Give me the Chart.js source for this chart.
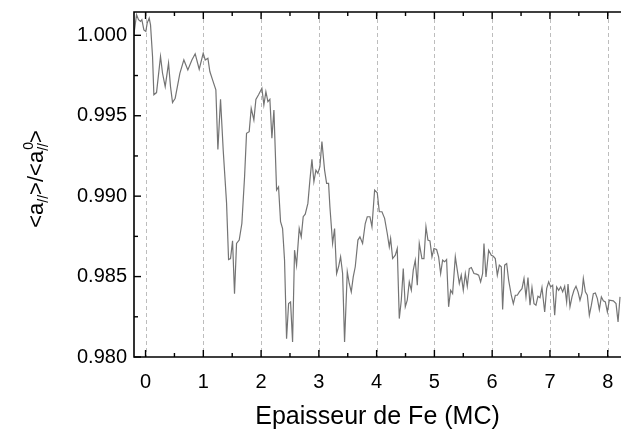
<!DOCTYPE html>
<html>
<head>
<meta charset="utf-8">
<script src="https://cdn.jsdelivr.net/npm/chart.js@4"></script>
<style>
  html, body { margin: 0; padding: 0; background: #fff; }
  #wrap { width: 621px; height: 434px; }
</style>
</head>
<body>
<div id="wrap"><canvas id="chart" width="621" height="434"></canvas></div>
<script>
// épaisseur de Fe (MC)
const epaisseur = [
  -0.203, -0.156, -0.122, -0.087, -0.064, -0.029, 0.005, 0.028, 0.063, 0.086,
  0.121, 0.144, 0.190, 0.259, 0.294, 0.340, 0.398, 0.432, 0.467, 0.513,
  0.594, 0.663, 0.732, 0.802, 0.859, 0.929, 0.998, 1.033, 1.079, 1.113,
  1.160, 1.217, 1.252, 1.298, 1.344, 1.402, 1.437, 1.471, 1.506,
  1.540, 1.575, 1.621, 1.667, 1.714, 1.748, 1.794, 1.829, 1.875, 1.910, 1.956,
  2.014, 2.048, 2.083, 2.118, 2.152, 2.187, 2.222, 2.268, 2.302, 2.337,
  2.372, 2.406, 2.441, 2.476, 2.510, 2.545, 2.579, 2.614, 2.660, 2.695,
  2.729, 2.764, 2.810, 2.845, 2.880, 2.914, 2.949, 2.983, 3.018, 3.053,
  3.099, 3.134, 3.168, 3.191,
  3.238, 3.272, 3.307, 3.341, 3.376, 3.411, 3.445, 3.492, 3.526, 3.561,
  3.595, 3.630, 3.676, 3.711, 3.757, 3.803, 3.838, 3.884, 3.919, 3.965,
  4.011, 4.046, 4.092, 4.138, 4.184, 4.219, 4.242, 4.277, 4.323, 4.357,
  4.392, 4.427, 4.461, 4.496, 4.530, 4.565, 4.600, 4.634, 4.669, 4.704,
  4.738, 4.784, 4.819, 4.854,
  4.888, 4.923, 4.958, 4.992, 5.038, 5.073, 5.108, 5.142, 5.177, 5.211,
  5.246, 5.281, 5.315, 5.362, 5.396, 5.431, 5.465, 5.500, 5.535, 5.569,
  5.604, 5.639, 5.685, 5.731, 5.766, 5.800, 5.835, 5.858, 5.893, 5.939,
  5.985, 6.020, 6.054, 6.089, 6.124, 6.158, 6.181, 6.216, 6.251, 6.285,
  6.331, 6.366, 6.401, 6.435, 6.470, 6.516,
  6.551, 6.585, 6.620, 6.655, 6.689, 6.724, 6.758, 6.793, 6.828, 6.862,
  6.909, 6.943, 6.978, 7.012, 7.047, 7.082, 7.116, 7.151, 7.186, 7.220,
  7.255, 7.289, 7.313, 7.347, 7.382, 7.416, 7.451, 7.486, 7.520, 7.555,
  7.578, 7.613, 7.647, 7.682, 7.717, 7.751, 7.786, 7.821, 7.855, 7.890,
  7.924, 7.959, 7.994, 8.028, 8.097, 8.144, 8.179, 8.213
];

// <a//> / <a//0>
const rapport = [
  1.00003, 1.00128, 1.00097, 1.00086, 1.00097, 1.00034, 1.00024, 1.00076, 1.00107, 1.00065,
  0.99868, 0.99630, 0.99644, 0.99868, 0.99764, 0.99681, 0.99827, 0.99681, 0.99582, 0.99609,
  0.99764, 0.99847, 0.99785, 0.99847, 0.99885, 0.99789, 0.99889, 0.99847, 0.99858, 0.99775,
  0.99723, 0.99661, 0.99291, 0.99602, 0.99287, 0.98959, 0.98606, 0.98612, 0.98722,
  0.98394, 0.98706, 0.98727, 0.98830, 0.99121, 0.99391, 0.99401, 0.99546, 0.99474, 0.99602, 0.99630,
  0.99671, 0.99567, 0.99650, 0.99588, 0.99602, 0.99360, 0.99536, 0.99038, 0.99058, 0.98841,
  0.98799, 0.98602, 0.98114, 0.98332, 0.98342, 0.98094, 0.98664, 0.98571, 0.98799, 0.98747,
  0.98872, 0.98888, 0.98955, 0.99100, 0.99229, 0.99090, 0.99162, 0.99142, 0.99183, 0.99339,
  0.99162, 0.99079, 0.99079, 0.98934,
  0.98706, 0.98799, 0.98519, 0.98561, 0.98623, 0.98519, 0.98094, 0.98530, 0.98457, 0.98405,
  0.98498, 0.98561, 0.98727, 0.98747, 0.98706, 0.98830, 0.98872, 0.98872, 0.98810, 0.99038,
  0.99021, 0.98903, 0.98903, 0.98862, 0.98768, 0.98685, 0.98737, 0.98612, 0.98633, 0.98674,
  0.98239, 0.98353, 0.98550, 0.98312, 0.98353, 0.98467, 0.98415, 0.98540, 0.98602, 0.98446,
  0.98706, 0.98612, 0.98612, 0.98810,
  0.98727, 0.98722, 0.98623, 0.98674, 0.98668, 0.98623, 0.98519, 0.98602, 0.98592, 0.98606,
  0.98312, 0.98415, 0.98394, 0.98623, 0.98540, 0.98457, 0.98509, 0.98415, 0.98519, 0.98440,
  0.98550, 0.98556, 0.98519, 0.98515, 0.98509, 0.98467, 0.98519, 0.98706, 0.98498, 0.98664,
  0.98633, 0.98626, 0.98612, 0.98509, 0.98571, 0.98561, 0.98295, 0.98571, 0.98581, 0.98478,
  0.98384, 0.98332, 0.98384, 0.98384, 0.98405, 0.98425,
  0.98488, 0.98374, 0.98494, 0.98322, 0.98432, 0.98332, 0.98322, 0.98378, 0.98369, 0.98432,
  0.98280, 0.98425, 0.98467, 0.98436, 0.98446, 0.98260, 0.98436, 0.98415, 0.98436, 0.98405,
  0.98440, 0.98342, 0.98453, 0.98312, 0.98374, 0.98415, 0.98440, 0.98405, 0.98353, 0.98398,
  0.98488, 0.98405, 0.98384, 0.98260, 0.98322, 0.98394, 0.98398, 0.98363, 0.98295, 0.98374,
  0.98349, 0.98342, 0.98280, 0.98353, 0.98349, 0.98332, 0.98218, 0.98374
];

const xTicks = [0, 1, 2, 3, 4, 5, 6, 7, 8];
const xMinorTicks = [0.5, 1.5, 2.5, 3.5, 4.5, 5.5, 6.5, 7.5];
const yTicks = [0.980, 0.985, 0.990, 0.995, 1.000];
const yMinorTicks = [0.9825, 0.9875, 0.9925, 0.9975];

const FONT = "'Liberation Sans', Arial, sans-serif";

// grille pointillée + cadre et graduations vers l'intérieur
const framePlugin = {
    id: 'frame',
    beforeDatasetsDraw(chart) {
        const ctx = chart.ctx, a = chart.chartArea, sx = chart.scales.x;
        ctx.save();
        ctx.strokeStyle = '#bdbdbd';
        ctx.lineWidth = 1;
        ctx.setLineDash([4, 3]);
        xTicks.forEach(v => {
            const px = Math.round(sx.getPixelForValue(v)) + 0.5;
            ctx.beginPath();
            ctx.moveTo(px, a.top);
            ctx.lineTo(px, a.bottom);
            ctx.stroke();
        });
        ctx.restore();
    },
    afterDatasetsDraw(chart) {
        const ctx = chart.ctx, a = chart.chartArea;
        const sx = chart.scales.x, sy = chart.scales.y;
        ctx.save();
        ctx.strokeStyle = '#000';
        ctx.lineWidth = 1.6;
        ctx.beginPath();
        ctx.moveTo(a.right + 2, a.top);
        ctx.lineTo(a.left, a.top);
        ctx.lineTo(a.left, a.bottom);
        ctx.lineTo(a.right + 2, a.bottom);
        ctx.stroke();
        ctx.lineWidth = 1.4;
        const tick = (v, len) => {
            const px = sx.getPixelForValue(v);
            ctx.beginPath();
            ctx.moveTo(px, a.bottom); ctx.lineTo(px, a.bottom - len);
            ctx.moveTo(px, a.top); ctx.lineTo(px, a.top + len);
            ctx.stroke();
        };
        xTicks.forEach(v => tick(v, 7));
        xMinorTicks.forEach(v => tick(v, 4));
        const ytick = (v, len) => {
            const py = sy.getPixelForValue(v);
            ctx.beginPath();
            ctx.moveTo(a.left, py); ctx.lineTo(a.left + len, py);
            ctx.stroke();
        };
        yTicks.forEach(v => ytick(v, 7));
        yMinorTicks.forEach(v => ytick(v, 4));
        ctx.restore();
    },
    afterDraw(chart) {
        // titre Y avec indice et exposant
        const ctx = chart.ctx;
        const big = '22px ' + FONT, small = '14px ' + FONT;
        const parts = [
            { t: '<a', f: big, dy: 0 },
            { t: '//', f: small, dy: 5 },
            { t: '>/<a', f: big, dy: 0 },
            { t: '//', f: small, dy: 5, sup: '0' },
            { t: '>', f: big, dy: 0 }
        ];
        ctx.save();
        ctx.fillStyle = '#000';
        ctx.textBaseline = 'alphabetic';
        let total = 0;
        parts.forEach(p => { ctx.font = p.f; p.w = ctx.measureText(p.t).width; total += p.w; });
        ctx.translate(43, 179);
        ctx.rotate(-Math.PI / 2);
        let x = -total / 2;
        parts.forEach(p => {
            ctx.font = p.f;
            ctx.fillText(p.t, x, p.dy);
            if (p.sup) ctx.fillText(p.sup, x + 1, -10);
            x += p.w;
        });
        ctx.restore();
    }
};

new Chart(document.getElementById('chart'), {
    type: 'line',
    data: {
        datasets: [{
            data: epaisseur.map((v, i) => ({ x: v, y: rapport[i] })),
            borderColor: '#747474',
            borderWidth: 1.2,
            pointRadius: 0,
            tension: 0,
            fill: false
        }]
    },
    options: {
        responsive: false,
        animation: false,
        layout: { padding: { top: 12, right: 0, left: 0, bottom: 0 } },
        plugins: {
            legend: { display: false },
            tooltip: { enabled: false }
        },
        scales: {
            x: {
                type: 'linear',
                min: -0.2,
                max: 8.23,
                afterBuildTicks: s => { s.ticks = xTicks.map(v => ({ value: v })); },
                afterFit: s => {
                    s.height = 77;
                    s.paddingLeft = 0;
                    s.paddingRight = 0;
                },
                grid: { display: false, drawTicks: false },
                border: { display: false },
                ticks: {
                    padding: 13,
                    color: '#000',
                    font: { family: FONT, size: 20 },
                    callback: v => String(v)
                },
                title: {
                    display: true,
                    text: 'Epaisseur de Fe (MC)',
                    color: '#000',
                    font: { family: FONT, size: 25 },
                    padding: { top: 0, bottom: 2 }
                }
            },
            y: {
                min: 0.980,
                max: 1.00145,
                afterBuildTicks: s => { s.ticks = yTicks.map(v => ({ value: v })); },
                afterFit: s => {
                    s.width = 134;
                    s.paddingTop = 0;
                    s.paddingBottom = 0;
                },
                grid: { display: false, drawTicks: false },
                border: { display: false },
                ticks: {
                    padding: 7,
                    color: '#000',
                    font: { family: FONT, size: 20 },
                    callback: v => v.toFixed(3)
                }
            }
        }
    },
    plugins: [framePlugin]
});
</script>
</body>
</html>
